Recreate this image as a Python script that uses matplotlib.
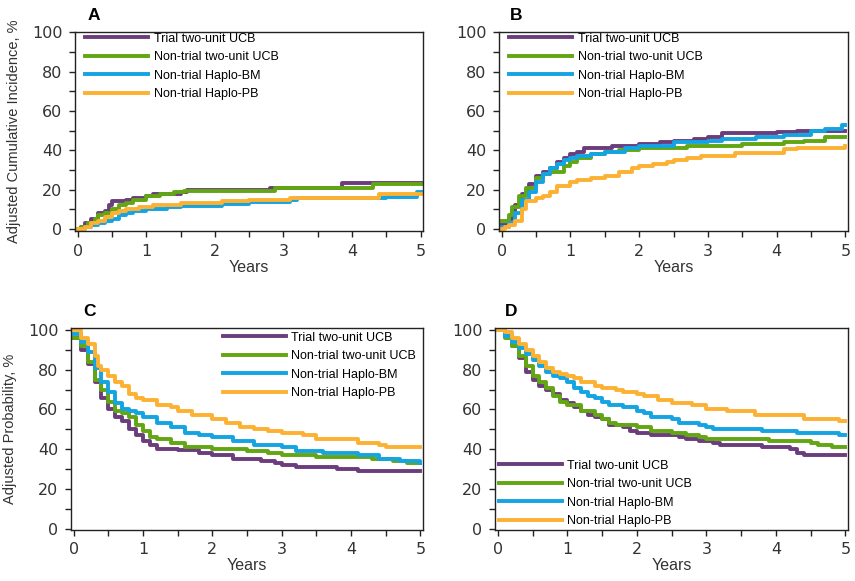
import matplotlib.pyplot as plt
from matplotlib.ticker import MultipleLocator

plt.rcParams['font.family'] = ['Liberation Sans', 'DejaVu Sans']

labels = ['Trial two-unit UCB', 'Non-trial two-unit UCB',
          'Non-trial Haplo-BM', 'Non-trial Haplo-PB']
colors = ['#6b3d7c', '#62a613', '#14a4e2', '#fcb133']

# panel A: cumulative incidence (years, %)
a_purple_t = [0, 0.05, 0.1, 0.2, 0.3, 0.4, 0.45, 0.5, 0.7, 0.8, 1.0, 1.1, 1.5, 1.6, 2.8, 3.85, 5.0]
a_purple_v = [0, 1, 3, 5, 8, 9, 12, 14, 15, 16, 17, 18, 19, 20, 21, 23.5, 23.5]
a_green_t = [0, 0.05, 0.15, 0.25, 0.3, 0.4, 0.5, 0.6, 0.7, 0.8, 1.0, 1.2, 1.4, 1.55, 2.87, 4.3, 5.0]
a_green_v = [0, 1, 3, 5, 7, 8, 10, 12, 13, 15, 17, 18, 19, 19.5, 21, 23, 23]
a_blue_t = [0, 0.1, 0.2, 0.3, 0.4, 0.5, 0.6, 0.7, 0.8, 1.0, 1.3, 1.5, 2.1, 2.5, 3.1, 3.2, 4.5, 4.95, 5.0]
a_blue_v = [0, 1, 2, 3, 4, 5, 7, 8, 9, 10, 11, 11.5, 12.5, 13.5, 15, 16, 16.5, 19, 19]
a_orange_t = [0, 0.1, 0.2, 0.3, 0.4, 0.5, 0.6, 0.7, 0.9, 1.1, 1.5, 2.1, 2.5, 3.1, 4.4, 5.0]
a_orange_v = [0, 1, 3, 4, 6, 8, 9, 10, 11, 12, 13, 14, 15, 16, 18, 18]

# panel B: cumulative incidence (years, %)
b_purple_t = [0, 0.1, 0.15, 0.2, 0.3, 0.4, 0.5, 0.6, 0.7, 0.8, 0.9, 1.0, 1.1, 1.2, 1.6, 2.0, 2.3, 2.5, 2.8, 3.0, 3.2, 4.0, 4.3, 5.0]
b_purple_v = [2, 5, 9, 12, 18, 23, 27, 29, 31, 34, 36, 38, 39, 41, 42, 43, 44, 45, 46, 47, 49, 49.5, 50, 50]
b_green_t = [0, 0.1, 0.15, 0.25, 0.35, 0.5, 0.6, 0.7, 0.9, 1.0, 1.1, 1.3, 1.5, 1.7, 2.0, 2.7, 3.5, 4.1, 4.4, 4.7, 5.0]
b_green_v = [4, 7, 11, 17, 21, 26, 28, 29, 32, 34, 36, 38, 39, 40, 41, 42, 43, 44, 45, 47, 47]
b_blue_t = [0, 0.1, 0.2, 0.3, 0.4, 0.5, 0.6, 0.7, 0.8, 0.9, 1.0, 1.1, 1.3, 1.5, 1.8, 2.0, 2.5, 3.0, 3.2, 3.7, 4.1, 4.5, 4.7, 4.95, 5.0]
b_blue_v = [1, 3, 8, 15, 19, 24, 28, 31, 33, 35, 36, 37, 38, 39, 41, 42, 44, 45, 46, 47, 48, 50, 51, 53, 53]
b_orange_t = [0, 0.05, 0.1, 0.2, 0.3, 0.35, 0.5, 0.6, 0.7, 0.8, 1.0, 1.1, 1.3, 1.5, 1.7, 1.9, 2.0, 2.2, 2.4, 2.5, 2.7, 2.9, 3.4, 4.1, 4.3, 5.0]
b_orange_v = [0, 1, 2, 4, 10, 14, 16, 17, 19, 22, 24, 25, 26, 27, 29, 31, 32, 33, 34, 35, 36, 37, 38.5, 40.5, 41, 42]

# panel C: adjusted probability (years, %)
c_purple_t = [0, 0.1, 0.2, 0.3, 0.4, 0.5, 0.6, 0.7, 0.8, 0.9, 1.0, 1.1, 1.2, 1.5, 1.8, 2.0, 2.3, 2.7, 2.9, 3.0, 3.2, 3.8, 4.1, 5.0]
c_purple_v = [96, 90, 83, 74, 66, 60, 56, 54, 50, 47, 44, 42, 40, 39.5, 38, 37, 35, 34, 33, 32, 31, 30, 29, 29]
c_green_t = [0, 0.1, 0.2, 0.3, 0.4, 0.5, 0.6, 0.7, 0.8, 0.9, 1.0, 1.1, 1.2, 1.4, 1.6, 2.0, 2.5, 2.8, 3.0, 3.5, 4.3, 4.6, 4.8, 5.0]
c_green_v = [96, 92, 84, 75, 70, 64, 59, 58, 56, 52, 49, 46, 45, 43, 41, 40, 39, 38, 37, 36, 35, 34, 33, 33]
c_blue_t = [0, 0.1, 0.2, 0.3, 0.4, 0.5, 0.6, 0.7, 0.8, 0.9, 1.0, 1.2, 1.4, 1.6, 1.8, 2.0, 2.3, 2.6, 3.0, 3.2, 3.6, 4.1, 4.4, 4.7, 5.0]
c_blue_v = [98, 94, 89, 81, 74, 69, 63, 60, 59, 58, 56, 53, 51, 48, 47, 46, 44, 42, 41, 39, 38, 37, 35, 34, 33]
c_orange_t = [0, 0.1, 0.2, 0.3, 0.35, 0.4, 0.5, 0.6, 0.7, 0.8, 0.9, 1.0, 1.2, 1.4, 1.5, 1.7, 2.0, 2.2, 2.4, 2.6, 2.8, 3.0, 3.3, 3.5, 4.1, 4.4, 4.5, 5.0]
c_orange_v = [100, 96, 93, 87, 82, 80, 77, 74, 72, 68, 66, 65, 62, 61, 59, 57, 55, 53, 51, 50, 49, 48, 47, 45, 43, 42, 41, 41]

# panel D: adjusted probability (years, %)
d_purple_t = [0, 0.1, 0.2, 0.3, 0.4, 0.5, 0.6, 0.7, 0.8, 0.9, 1.0, 1.1, 1.2, 1.3, 1.4, 1.5, 1.6, 1.8, 1.9, 2.0, 2.2, 2.6, 2.7, 2.9, 3.1, 3.2, 3.8, 4.2, 4.3, 4.4, 5.0]
d_purple_v = [100, 97, 92, 86, 79, 75, 72, 70, 68, 65, 63, 61, 59, 57, 56, 55, 52, 51, 49, 48, 47, 46, 45, 44, 43, 42, 41, 40, 38, 37, 37]
d_green_t = [0, 0.1, 0.2, 0.3, 0.4, 0.5, 0.6, 0.7, 0.8, 0.9, 1.0, 1.2, 1.4, 1.5, 1.6, 1.7, 2.0, 2.2, 2.5, 2.7, 2.9, 3.0, 3.9, 4.5, 4.6, 4.8, 5.0]
d_green_v = [100, 96, 92, 87, 82, 77, 74, 71, 67, 64, 62, 59, 57, 55, 53, 52, 51, 49, 48, 47, 46, 45, 44, 43, 42, 41, 41]
d_blue_t = [0, 0.1, 0.2, 0.3, 0.4, 0.5, 0.6, 0.7, 0.8, 0.9, 1.0, 1.1, 1.2, 1.3, 1.4, 1.5, 1.6, 1.8, 2.0, 2.1, 2.2, 2.5, 2.6, 2.9, 3.0, 3.1, 3.8, 4.3, 4.9, 5.0]
d_blue_v = [100, 97, 94, 91, 88, 85, 82, 79, 77, 76, 74, 71, 69, 67, 66, 64, 62, 61, 59, 58, 56, 55, 53, 52, 51, 50, 49, 48, 47, 47]
d_orange_t = [0, 0.1, 0.2, 0.3, 0.4, 0.5, 0.6, 0.7, 0.8, 0.9, 1.0, 1.1, 1.2, 1.4, 1.5, 1.7, 1.8, 2.0, 2.1, 2.3, 2.5, 2.8, 3.0, 3.3, 3.7, 4.4, 4.9, 5.0]
d_orange_v = [100, 99, 96, 93, 90, 87, 84, 81, 79, 78, 77, 76, 74, 72, 71, 70, 69, 68, 67, 65, 63, 62, 60, 59, 57, 55, 54, 54]

panels = [
    ('A', [0.0877, 0.6024, 0.4074, 0.343], (-1, 100.3),
     [(a_purple_t, a_purple_v), (a_green_t, a_green_v), (a_blue_t, a_blue_v), (a_orange_t, a_orange_v)],
     'Adjusted Cumulative Incidence, %', ('upper left', (0.03, 0.995))),
    ('B', [0.5836, 0.6024, 0.4085, 0.343], (-1, 100.3),
     [(b_purple_t, b_purple_v), (b_green_t, b_green_v), (b_blue_t, b_blue_v), (b_orange_t, b_orange_v)],
     None, ('upper left', (0.03, 0.995))),
    ('C', [0.0830, 0.0886, 0.4120, 0.3474], (-0.5, 101.2),
     [(c_purple_t, c_purple_v), (c_green_t, c_green_v), (c_blue_t, c_blue_v), (c_orange_t, c_orange_v)],
     'Adjusted Probability, %', ('upper left', (0.432, 0.98))),
    ('D', [0.5789, 0.0886, 0.4132, 0.3474], (-0.5, 101.2),
     [(d_purple_t, d_purple_v), (d_green_t, d_green_v), (d_blue_t, d_blue_v), (d_orange_t, d_orange_v)],
     None, ('lower left', (0.012, 0.012))),
]
letter_pos = {'A': (88, 20), 'B': (510, 20), 'C': (83, 316), 'D': (505, 316)}

fig = plt.figure(figsize=(8.55, 5.81), dpi=100)
for name, rect, ylim, series, ylabel, (loc, anchor) in panels:
    ax = fig.add_axes(rect)
    for (t, v), c, lab in zip(series, colors, labels):
        ax.plot(t, v, drawstyle='steps-post', color=c, lw=2.8, label=lab)
    ax.set_xlim(-0.04, 5.04)
    ax.set_ylim(*ylim)
    ax.xaxis.set_major_locator(MultipleLocator(1))
    ax.xaxis.set_minor_locator(MultipleLocator(0.5))
    ax.yaxis.set_major_locator(MultipleLocator(20))
    ax.yaxis.set_minor_locator(MultipleLocator(10))
    ax.tick_params(which='both', direction='out', length=4, width=1, pad=5,
                   labelsize=11.5, colors='#222222')
    ax.tick_params(which='both', labelcolor='#333333')
    for lbl in ax.get_xticklabels() + ax.get_yticklabels():
        lbl.set_family('DejaVu Sans')
    for s in ax.spines.values():
        s.set_linewidth(1)
        s.set_color('#222222')
    ax.set_xlabel('Years', fontsize=11.5, labelpad=1, color='#333333')
    if ylabel:
        ax.set_ylabel(ylabel, fontsize=10.5, labelpad=8, color='#333333')
    ax.legend(loc=loc, bbox_to_anchor=anchor, frameon=False, fontsize=9,
              handlelength=5.0, handletextpad=0.45, labelspacing=0.52,
              borderpad=0, borderaxespad=0)
    lx, ly = letter_pos[name]
    fig.text(lx / 855, 1 - ly / 581, name, fontsize=12.5, fontweight='bold',
             va='baseline', ha='left')

fig.savefig('out.png', dpi=100)
